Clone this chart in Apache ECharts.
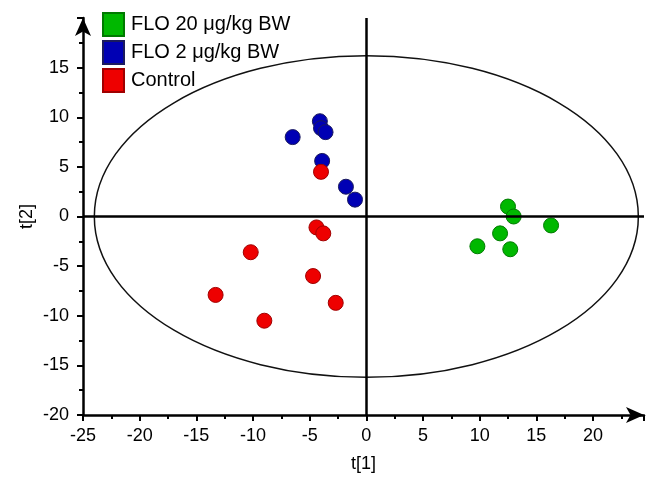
<!DOCTYPE html>
<html>
<head>
<meta charset="utf-8">
<script src="https://cdn.jsdelivr.net/npm/echarts@6/dist/echarts.min.js"></script>
<style>
  html, body { margin: 0; padding: 0; background: #fff; }
  #grafico { width: 659px; height: 480px; }
</style>
</head>
<body>
<div id="grafico"></div>
<script>
// score values: [t1, t2]
var flo20 = [[12.5, 1.0], [13.0, 0.0], [16.3, -0.9], [11.8, -1.7], [9.8, -3.0], [12.7, -3.3]];
var flo2 = [[-4.1, 9.6], [-4.0, 8.9], [-3.6, 8.5], [-6.5, 8.0], [-3.9, 5.6], [-1.8, 3.0], [-1.0, 1.7]];
var control = [[-4.0, 4.5], [-4.4, -1.1], [-3.8, -1.7], [-10.2, -3.6], [-4.7, -6.0], [-13.3, -7.9], [-2.7, -8.7], [-9.0, -10.5]];
var seriesNames = ["FLO 20 \u03bcg/kg BW", "FLO 2 \u03bcg/kg BW", "Control"];
// Hotelling ellipse: [cx, cy, semi-axis t1, semi-axis t2]
var ellipse = [[0, 0, 24, 16.2]];
var xTicks = { min: -25, max: 24.5, interval: 5 };
var yTicks = { min: -20, max: 20, interval: 5 };

var fuente = "Liberation Sans, Arial, sans-serif";

function ejeComun(){
    return {
        axisLine: {
            onZero: false,
            lineStyle: { color: "#000", width: 2.5 },
            symbol: ["none", "arrow"],
            symbolSize: [12, 18]
        },
        axisTick: { show: true, inside: false, length: 6, lineStyle: { color: "#000", width: 2 } },
        minorTick: { show: true, splitNumber: 2, length: 4, lineStyle: { color: "#000", width: 2 } },
        splitLine: { show: false },
        axisLabel: {
            color: "#000", fontSize: 18, fontFamily: fuente,
            showMaxLabel: false
        },
        nameTextStyle: { color: "#000", fontSize: 18, fontFamily: fuente },
        nameLocation: "middle",
        nameMoveOverlap: false
    };
}

function marcador(fill, borde){
    return { color: fill, borderColor: borde, borderWidth: 1, opacity: 1 };
}

function grafico(){
    var dom = document.getElementById("grafico");
    var myChart = echarts.init(dom, null, { renderer: "canvas" });

    var xAxis = ejeComun();
    xAxis.type = "value";
    xAxis.min = xTicks.min;
    xAxis.max = xTicks.max;
    xAxis.interval = xTicks.interval;
    xAxis.name = "t[1]";
    xAxis.nameGap = 40;
    xAxis.axisLabel.margin = 12;

    var yAxis = ejeComun();
    yAxis.type = "value";
    yAxis.min = yTicks.min;
    yAxis.max = yTicks.max;
    yAxis.interval = yTicks.interval;
    yAxis.name = "t[2]";
    yAxis.nameGap = 47;
    yAxis.axisLabel.margin = 14;

    var option = {
        animation: false,
        backgroundColor: "#fff",
        grid: { left: 83, right: 15, top: 18, bottom: 65, containLabel: false, outerBoundsMode: "none" },
        legend: {
            orient: "vertical",
            left: 102,
            top: 12,
            padding: 0,
            itemWidth: 21,
            itemHeight: 23,
            itemGap: 3,
            icon: "rect",
            textStyle: { color: "#000", fontSize: 20, fontFamily: fuente, padding: [0, 0, 0, 2] },
            data: seriesNames
        },
        xAxis: xAxis,
        yAxis: yAxis,
        series: [
            {
                name: "ellipse",
                type: "custom",
                silent: true,
                z: 1,
                data: ellipse,
                renderItem: function(params, api){
                    var c = api.coord([api.value(0), api.value(1)]);
                    var s = api.size([api.value(2), api.value(3)]);
                    return {
                        type: "ellipse",
                        shape: { cx: c[0], cy: c[1], rx: s[0], ry: s[1] },
                        style: { fill: null, stroke: "#111", lineWidth: 1.5 }
                    };
                }
            },
            {
                name: "axes",
                type: "line",
                data: [],
                silent: true,
                z: 2,
                markLine: {
                    silent: true,
                    symbol: ["none", "none"],
                    label: { show: false },
                    lineStyle: { color: "#000", width: 2.5, type: "solid" },
                    data: [{ xAxis: 0 }, { yAxis: 0 }]
                }
            },
            {
                name: seriesNames[0],
                type: "scatter",
                symbolSize: 15,
                z: 3,
                itemStyle: marcador("#00b800", "#007a00"),
                data: flo20
            },
            {
                name: seriesNames[1],
                type: "scatter",
                symbolSize: 15,
                z: 3,
                itemStyle: marcador("#0000b4", "#1a1a5e"),
                data: flo2
            },
            {
                name: seriesNames[2],
                type: "scatter",
                symbolSize: 15,
                z: 3,
                itemStyle: marcador("#ee0000", "#a00000"),
                data: control
            }
        ]
    };
    myChart.setOption(option, true);

    window.addEventListener("resize", function(){
        if(myChart != null && myChart != undefined){
            myChart.resize();
        }
    });
}

grafico();
</script>
</body>
</html>
